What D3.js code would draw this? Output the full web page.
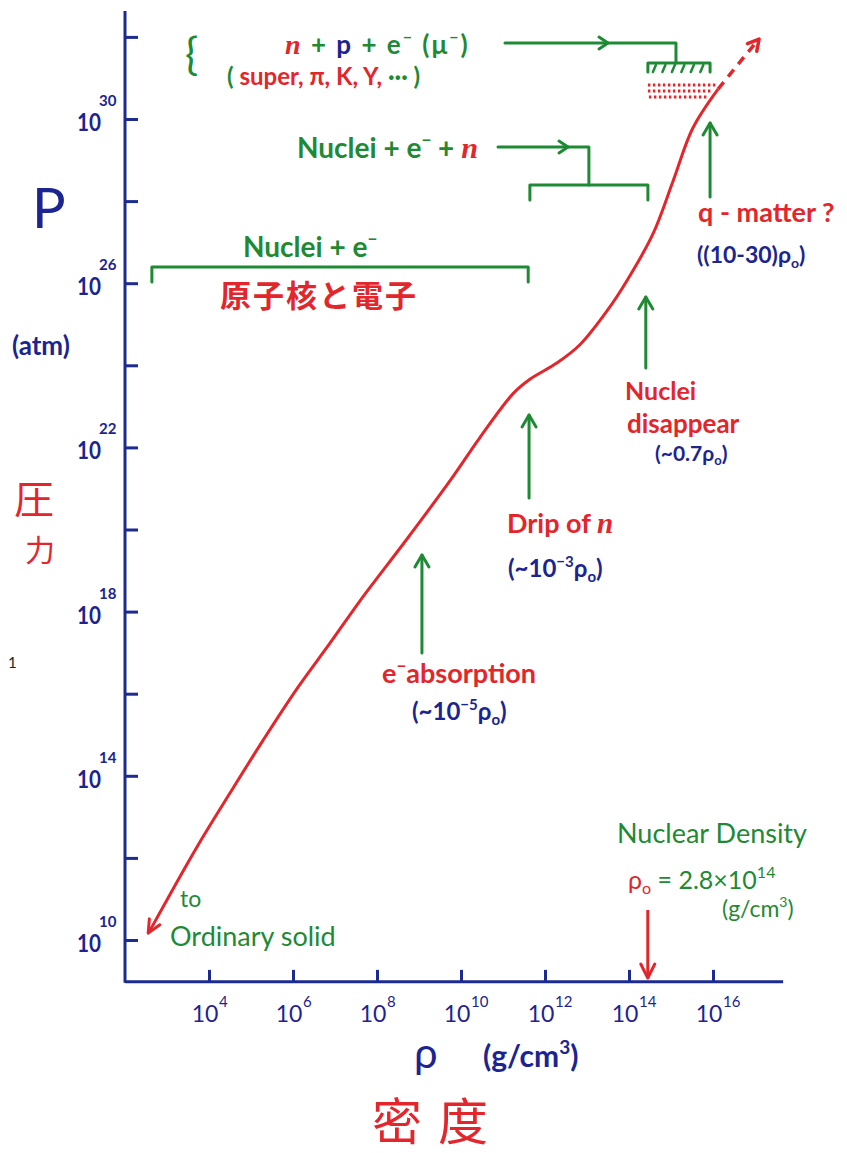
<!DOCTYPE html>
<html><head><meta charset="utf-8">
<script src="https://cdn.jsdelivr.net/npm/d3@7"></script>
<style>body{margin:0;background:#fff}svg{display:block}</style>
</head><body>
<svg id="c" width="847" height="1153"></svg>
<script>
// ---- data (log10 values) ----
const densityExp  = [2.60, 3.71, 4.50, 5.29, 6.10, 6.88, 7.60, 8.70, 9.74, 10.45, 11.24, 11.64, 12.29, 12.83, 13.48, 13.95, 14.57, 15.05, 15.52, 16.12];
const pressureExp = [10.24, 12.26, 13.58, 14.87, 16.13, 17.23, 18.27, 19.75, 21.19, 22.24, 23.31, 23.66, 24.06, 24.50, 25.33, 26.06, 27.20, 28.49, 29.78, 30.73];
const extrapDensityExp  = [16.12, 17.05];
const extrapPressureExp = [30.73, 31.90];
const xTickExp = [4, 6, 8, 10, 12, 14, 16];
const yTickExp = [10, 12, 14, 16, 18, 20, 22, 24, 26, 28, 30, 32];
const yLabelExp = [10, 14, 18, 22, 26, 30];
const phaseFromExp = [2.64, 11.64, 14.45];
const phaseToExp   = [11.60, 14.45, 15.93];
const markerExp    = [9.07, 11.62, 14.40, 15.93];   // e- absorption, drip, nuclei disappear, q-matter
const nuclearDensity = 2.8e14;

const RED = "#e3262b", GREEN = "#1e8a34", BLUE = "#1b2490", AXIS = "#1d2a8e";
const FONT = "Lato, 'Open Sans', sans-serif";

const svg = d3.select("#c");
const x = d3.scaleLog().domain([1e4, 1e16]).range([209, 713]);
const y = d3.scaleLog().domain([1e10, 1e30]).range([940, 119]);
const X = e => x(Math.pow(10, e));
const Y = e => y(Math.pow(10, e));

// ---- axes ----
const x0 = X(2), x1 = X(17.67), yb = Y(8.98), yt = Y(32.63);
svg.append("line").attr("x1", x0).attr("x2", x1).attr("y1", yb).attr("y2", yb)
  .attr("stroke", AXIS).attr("stroke-width", 3);
svg.append("line").attr("x1", x0).attr("x2", x0).attr("y1", yb + 1).attr("y2", yt)
  .attr("stroke", AXIS).attr("stroke-width", 3);

const gx = svg.append("g").attr("transform", `translate(0,${yb})`)
  .call(d3.axisBottom(x).tickValues(xTickExp.map(e => Math.pow(10, e))).tickSizeInner(-12).tickSizeOuter(0).tickFormat(""));
gx.select(".domain").remove();
gx.selectAll(".tick line").attr("stroke", AXIS).attr("stroke-width", 3);

const gy = svg.append("g").attr("transform", `translate(${x0},0)`)
  .call(d3.axisLeft(y).tickValues(yTickExp.map(e => Math.pow(10, e))).tickSizeInner(-13).tickSizeOuter(0).tickFormat(""));
gy.select(".domain").remove();
gy.selectAll(".tick line").attr("stroke", AXIS).attr("stroke-width", 3);

// tick labels
xTickExp.forEach(e => {
  const px = X(e);
  svg.append("text").attr("x", px - 4).attr("y", yb + 40).attr("text-anchor", "middle")
    .attr("font-family", FONT).attr("font-size", 23).attr("fill", BLUE).text("10");
  svg.append("text").attr("x", px + 10).attr("y", yb + 25)
    .attr("font-family", FONT).attr("font-size", 15).attr("fill", BLUE).text(e);
});
yLabelExp.forEach(e => {
  const py = Y(e);
  svg.append("text").attr("x", x0 - 24).attr("y", py + 12).attr("text-anchor", "end")
    .attr("font-family", FONT).attr("font-weight", 700).attr("font-size", 25).attr("fill", BLUE)
    .attr("textLength", 24).attr("lengthAdjust", "spacingAndGlyphs").text("10");
  svg.append("text").attr("x", x0 - 26).attr("y", py - 13)
    .attr("font-family", FONT).attr("font-weight", 700).attr("font-size", 15).attr("fill", BLUE).text(e);
});

// ---- curve ----
const pts = densityExp.map((d, i) => [d, pressureExp[i]]);
const line = d3.line().x(d => X(d[0])).y(d => Y(d[1])).curve(d3.curveCatmullRom.alpha(0.5));
svg.append("path").attr("d", line(pts)).attr("fill", "none").attr("stroke", RED).attr("stroke-width", 3);
const ext = extrapDensityExp.map((d, i) => [d, extrapPressureExp[i]]);
svg.append("path").attr("d", line(ext)).attr("fill", "none").attr("stroke", RED)
  .attr("stroke-width", 3.5).attr("stroke-dasharray", "9,7");

function vhead(tx, ty, fx, fy, color, len = 12, half = 6, sw = 3) {
  const dx = tx - fx, dy = ty - fy, L = Math.hypot(dx, dy);
  const ux = dx / L, uy = dy / L;
  const bx = tx - ux * len, by = ty - uy * len;
  const p = `M${bx - uy * half},${by + ux * half}L${tx},${ty}L${bx + uy * half},${by - ux * half}`;
  svg.append("path").attr("d", p).attr("fill", "none").attr("stroke", color)
    .attr("stroke-width", sw).attr("stroke-linecap", "round").attr("stroke-linejoin", "round");
}
vhead(X(pts[0][0]) - 2, Y(pts[0][1]) + 3, X(pts[1][0]), Y(pts[1][1]), RED, 13, 6);
vhead(X(ext[1][0]) + 2, Y(ext[1][1]) - 2, X(ext[0][0]), Y(ext[0][1]), RED, 11, 6, 3.5);

// ---- phase brackets ----
const G = (sel) => sel.attr("stroke", GREEN).attr("stroke-width", 3).attr("fill", "none")
  .attr("stroke-linecap", "round").attr("stroke-linejoin", "round");
function bracket(i, yy, drop) {
  G(svg.append("path").attr("d",
    `M${X(phaseFromExp[i])},${yy + drop}L${X(phaseFromExp[i])},${yy}L${X(phaseToExp[i])},${yy}L${X(phaseToExp[i])},${yy + drop}`));
}
bracket(0, 267, 15);
bracket(1, 185, 15);
bracket(2, 63, 9);
const hb0 = X(phaseFromExp[2]), hb1 = X(phaseToExp[2]);
for (let k = 0; k < 6; k++) {
  const hx = hb0 + 8 + k * (hb1 - hb0 - 10) / 5.5;
  G(svg.append("path").attr("d", `M${hx},${65}L${hx - 3},${72}`)).attr("stroke-width", 2.5);
}
[85, 91, 97].forEach((yy, k) => {
  svg.append("line").attr("x1", hb0 + (k === 2 ? 1 : 0)).attr("x2", hb1 + 6 - k * 4).attr("y1", yy).attr("y2", yy)
    .attr("stroke", RED).attr("stroke-width", 3).attr("stroke-dasharray", "2.5,2.5");
});

const c1 = (X(phaseFromExp[1]) + X(phaseToExp[1])) / 2;
G(svg.append("path").attr("d", `M498,147L${c1},147L${c1},185`));
vhead(568, 147, 540, 147, GREEN, 9, 6);
const c2 = (hb0 + hb1) / 2 - 3;
G(svg.append("path").attr("d", `M505,43L${c2},43L${c2},63`));
vhead(608, 43, 580, 43, GREEN, 9, 6);

const upY = [[653, 555], [498, 415], [368, 297], [197, 123]];
markerExp.forEach((e, i) => {
  const px = X(e);
  G(svg.append("line").attr("x1", px).attr("x2", px).attr("y1", upY[i][0]).attr("y2", upY[i][1]));
  vhead(px, upY[i][1], px, upY[i][0], GREEN, 12, 7);
});
const nx = x(nuclearDensity);
svg.append("line").attr("x1", nx).attr("x2", nx).attr("y1", 910).attr("y2", 978)
  .attr("stroke", RED).attr("stroke-width", 3);
vhead(nx, 978, nx, 910, RED, 14, 7);

// ---- text ----
function rich(xp, yp, parts, size, opts = {}) {
  const t = svg.append("text").attr("x", xp).attr("y", yp).attr("font-size", size)
    .attr("font-family", FONT).attr("font-weight", opts.weight || 700)
    .attr("text-anchor", opts.anchor || "start");
  if (opts.ls) t.attr("letter-spacing", opts.ls);
  let shift = 0;
  parts.forEach(p => {
    const s = t.append("tspan").text(p.t).attr("fill", p.c);
    const target = p.sup ? -Math.round(size * 0.42) : p.sub ? Math.round(size * 0.2) : 0;
    if (target !== shift) { s.attr("dy", target - shift); shift = target; }
    if (p.sup || p.sub) s.attr("font-size", Math.round(size * 0.62));
    if (p.it) s.attr("font-style", "italic").attr("font-family", "'Liberation Serif', serif").attr("font-size", size * 1.08);
  });
  return t;
}

svg.append("text").attr("x", 185).attr("y", 70).attr("font-family", FONT).attr("font-size", 44)
  .attr("fill", GREEN).text("{");
rich(285, 54, [
  { t: "n", c: RED, it: true }, { t: " + ", c: GREEN }, { t: "p", c: BLUE }, { t: " + ", c: GREEN },
  { t: "e", c: GREEN }, { t: "−", c: GREEN, sup: true }, { t: " (μ", c: GREEN }, { t: "−", c: GREEN, sup: true }, { t: ")", c: GREEN }
], 26, { ls: 2 });
rich(227, 85, [
  { t: "( ", c: GREEN }, { t: "super,  π,  K,  Y, ", c: RED }, { t: " ···  )", c: GREEN }
], 24);

rich(297, 158, [
  { t: "Nuclei + e", c: GREEN }, { t: "−", c: GREEN, sup: true }, { t: " + ", c: GREEN }, { t: "n", c: RED, it: true }
], 28);
rich(243, 257, [
  { t: "Nuclei  + e", c: GREEN }, { t: "−", c: GREEN, sup: true }
], 28);
svg.append("text").attr("x", 220).attr("y", 307).attr("font-family", "'Noto Sans CJK JP', sans-serif")
  .attr("font-size", 31).attr("font-weight", 700).attr("letter-spacing", 2).attr("fill", RED).text("原子核と電子");

svg.append("text").attr("x", 32).attr("y", 228).attr("font-family", FONT).attr("font-size", 56)
  .attr("fill", BLUE).text("P");
svg.append("text").attr("x", 12).attr("y", 355).attr("font-family", FONT).attr("font-size", 26)
  .attr("font-weight", 700).attr("fill", BLUE).text("(atm)");
svg.append("text").attr("x", 14).attr("y", 514).attr("font-family", "'Noto Sans CJK JP', sans-serif")
  .attr("font-size", 40).attr("fill", RED).text("圧");
svg.append("text").attr("x", 25).attr("y", 561).attr("font-family", "'Noto Sans CJK JP', sans-serif")
  .attr("font-size", 30).attr("fill", RED).text("力");
svg.append("text").attr("x", 8).attr("y", 668).attr("font-family", FONT).attr("font-size", 15)
  .attr("fill", "#222").text("1");

rich(698, 222, [{ t: "q - matter ?", c: RED }], 27);
rich(697, 263, [{ t: "((10-30)ρ", c: BLUE }, { t: "o", c: BLUE, sub: true }, { t: ")", c: BLUE }], 23);
rich(625, 400, [{ t: "Nuclei", c: RED }], 25);
rich(627, 433, [{ t: "disappear", c: RED }], 26);
rich(655, 461, [{ t: "(~0.7ρ", c: BLUE }, { t: "o", c: BLUE, sub: true }, { t: ")", c: BLUE }], 21);
rich(507, 533, [{ t: "Drip of ", c: RED }, { t: "n", c: RED, it: true }], 27);
rich(508, 577, [{ t: "(~10", c: BLUE }, { t: "−3", c: BLUE, sup: true }, { t: "ρ", c: BLUE }, { t: "o", c: BLUE, sub: true }, { t: ")", c: BLUE }], 24);
rich(382, 683, [{ t: "e", c: RED }, { t: "−", c: RED, sup: true }, { t: "absorption", c: RED }], 27);
rich(412, 720, [{ t: "(~10", c: BLUE }, { t: "−5", c: BLUE, sup: true }, { t: "ρ", c: BLUE }, { t: "o", c: BLUE, sub: true }, { t: ")", c: BLUE }], 24);

rich(180, 907, [{ t: "to", c: GREEN }], 23, { weight: 400 });
rich(170, 946, [{ t: "Ordinary solid", c: GREEN }], 27, { weight: 400 });

rich(617, 843, [{ t: "Nuclear Density", c: GREEN }], 27, { weight: 400 });
rich(628, 889, [
  { t: "ρ", c: RED }, { t: "o", c: RED, sub: true }, { t: " = 2.8×10", c: GREEN }, { t: "14", c: GREEN, sup: true }
], 25, { weight: 400 });
rich(722, 917, [{ t: "(g/cm", c: GREEN }, { t: "3", c: GREEN, sup: true }, { t: ")", c: GREEN }], 23, { weight: 400 });

svg.append("text").attr("x", 414).attr("y", 1068).attr("font-family", FONT).attr("font-size", 42)
  .attr("fill", BLUE).text("ρ");
rich(483, 1067, [{ t: "(g/cm", c: BLUE }, { t: "3", c: BLUE, sup: true }, { t: ")", c: BLUE }], 30);
svg.append("text").attr("x", 372).attr("y", 1140).attr("font-family", "'Noto Sans CJK SC', sans-serif")
  .attr("font-size", 50).attr("letter-spacing", 16).attr("fill", RED).text("密度");
</script>
</body></html>
